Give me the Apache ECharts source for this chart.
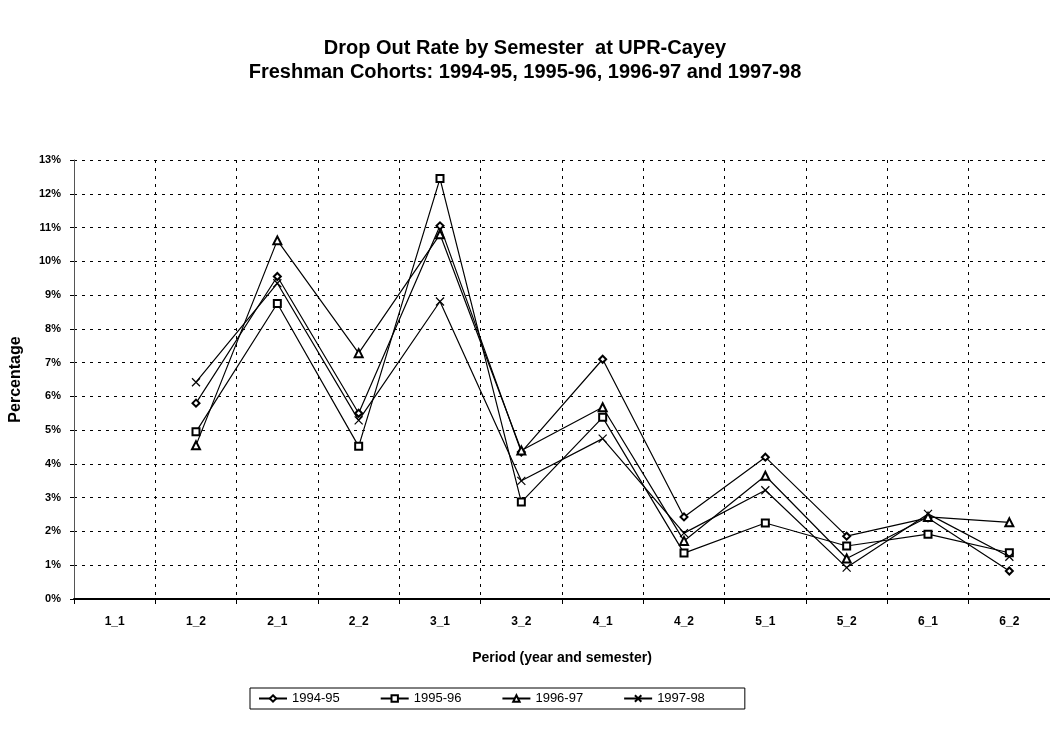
<!DOCTYPE html>
<html>
<head>
<meta charset="utf-8">
<title>Drop Out Rate by Semester</title>
<script src="https://cdn.jsdelivr.net/npm/echarts@6/dist/echarts.min.js"></script>
<style>
	html, body { margin: 0; padding: 0; background: #fff; }
	#chart { width: 1050px; height: 738px; }
</style>
</head>
<body>
<div id="chart"></div>
<script>
// 横轴: 年_学期
var periods = ['1_1', '1_2', '2_1', '2_2', '3_1', '3_2', '4_1', '4_2', '5_1', '5_2', '6_1', '6_2']

// 各届新生的退学率 (%)，1_1 无数据
var cohort9495 = [null, 5.8, 9.55, 5.5, 11.05, 4.35, 7.1, 2.43, 4.2, 1.86, 2.4, 0.83]
var cohort9596 = [null, 4.95, 8.75, 4.52, 12.45, 2.87, 5.38, 1.36, 2.25, 1.57, 1.92, 1.37]
var cohort9697 = [null, 4.55, 10.62, 7.28, 10.8, 4.4, 5.68, 1.72, 3.65, 1.2, 2.43, 2.27]
var cohort9798 = [null, 6.42, 9.35, 5.29, 8.81, 3.5, 4.75, 1.95, 3.22, 0.93, 2.52, 1.25]

var cohortNames = ['1994-95', '1995-96', '1996-97', '1997-98']
var cohortData = [cohort9495, cohort9596, cohort9697, cohort9798]

// y轴刻度
var yMin = 0, yMax = 13, yStep = 1

var fontFam = 'Liberation Sans, Arial, sans-serif'
var crossPath = 'path://M0,0L10,10M10,0L0,10'
var symbols = ['emptyDiamond', 'emptyRect', 'emptyTriangle', crossPath]
var symbolSizes = [7, 7, 8, 8]

var series = cohortNames.map(function (name, i) {
	return {
		name: name,
		type: 'line',
		data: cohortData[i],
		symbol: symbols[i],
		symbolSize: symbolSizes[i],
		showAllSymbol: true,
		lineStyle: { color: '#000', width: 1.2 },
		itemStyle: { color: '#000', borderColor: '#000', borderWidth: 1.2 },
		emphasis: { disabled: true },
		animation: false
	}
})

var chart = echarts.init(document.getElementById('chart'))
var option = {
	backgroundColor: '#fff',
	title: {
		text: 'Drop Out Rate by Semester  at UPR-Cayey\nFreshman Cohorts: 1994-95, 1995-96, 1996-97 and 1997-98',
		left: 'center',
		top: 31,
		textStyle: {
			fontFamily: fontFam,
			fontSize: 20,
			fontWeight: 'bold',
			color: '#000',
			lineHeight: 24
		}
	},
	legend: {
		data: cohortNames,
		left: 250,
		top: 688,
		itemGap: 40,
		itemWidth: 28,
		itemHeight: 8,
		padding: [4, 40, 4, 8],
		borderColor: '#000',
		borderWidth: 1,
		textStyle: { fontFamily: fontFam, fontSize: 13, color: '#000' }
	},
	grid: {
		left: 73,
		top: 160,
		width: 989,
		height: 439
	},
	xAxis: {
		type: 'category',
		data: periods,
		boundaryGap: true,
		name: 'Period (year and semester)',
		nameLocation: 'middle',
		nameGap: 52,
		nameTextStyle: { fontFamily: fontFam, fontSize: 14, fontWeight: 'bold', color: '#000' },
		axisLine: { lineStyle: { color: '#000', width: 2 } },
		axisTick: { show: true, length: 5, lineStyle: { color: '#000' } },
		axisLabel: { fontFamily: fontFam, fontSize: 12, fontWeight: 'bold', color: '#000', margin: 17 },
		splitLine: { show: true, lineStyle: { color: '#000', width: 1, type: [3, 5] } }
	},
	yAxis: {
		type: 'value',
		min: yMin,
		max: yMax,
		interval: yStep,
		name: 'Percentage',
		nameLocation: 'middle',
		nameGap: 50,
		nameTextStyle: { fontFamily: fontFam, fontSize: 16, fontWeight: 'bold', color: '#000' },
		axisLine: { show: true, lineStyle: { color: '#555', width: 1 } },
		axisTick: { show: true, length: 4, lineStyle: { color: '#000' } },
		axisLabel: { fontFamily: fontFam, fontSize: 11, fontWeight: 'bold', color: '#000', margin: 13, formatter: '{value}%' },
		splitLine: { show: true, lineStyle: { color: '#000', width: 1, type: [3, 5] } }
	},
	series: series
}
chart.setOption(option)
</script>
</body>
</html>
